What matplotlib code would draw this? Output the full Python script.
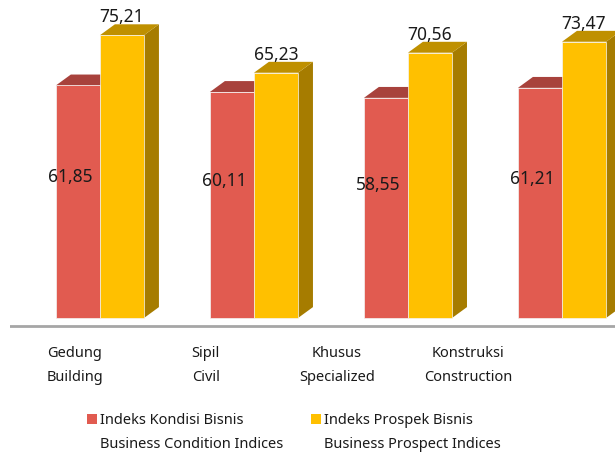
import matplotlib.pyplot as plt
from matplotlib.patches import Polygon, Rectangle
import numpy as np

plt.rcParams['font.family'] = ['Noto Sans', 'DejaVu Sans']

# data
categories = ['Gedung\nBuilding', 'Sipil\nCivil', 'Khusus\nSpecialized', 'Konstruksi\nConstruction']
kondisi = [61.85, 60.11, 58.55, 61.21]
prospek = [75.21, 65.23, 70.56, 73.47]
labels = ['Indeks Kondisi Bisnis\nBusiness Condition Indices',
          'Indeks Prospek Bisnis\nBusiness Prospect Indices']

red_front, red_top, red_side = '#E15B50', '#A8423C', '#8E3530'
yel_front, yel_top, yel_side = '#FFC000', '#BF9000', '#A67C00'

W, H = 615, 456
fig = plt.figure(figsize=(W / 100, H / 100), dpi=100)
# axes: x from px 10 to 615, y from px 330 (bottom) to 0 (top)
ax = fig.add_axes([10 / W, (H - 330) / H, 605 / W, 330 / H])
ax.set_xlim(-0.584, 3.344)
ax.set_ylim(-11 / 3.76, 319 / 3.76)
ax.axis('off')

x = np.arange(len(categories))
w = 0.286
dx, dy = 0.097, 2.9


def bar3d(x0, h, front, top, side):
    ax.add_patch(Polygon([[x0 + w, 0], [x0 + w + dx, dy], [x0 + w + dx, h + dy], [x0 + w, h]],
                         closed=True, facecolor=side, edgecolor='none'))
    ax.add_patch(Polygon([[x0, h], [x0 + dx, h + dy], [x0 + w + dx, h + dy], [x0 + w, h]],
                         closed=True, facecolor=top, edgecolor='none'))
    ax.bar(x0, h, width=w, align='edge', color=front, edgecolor='#f4f4f4', linewidth=0.5)


for i in range(len(categories)):
    bar3d(x[i] - w, kondisi[i], red_front, red_top, red_side)
    bar3d(x[i], prospek[i], yel_front, yel_top, yel_side)
    ax.text(x[i] - w / 2 - 0.05, kondisi[i] * 0.61, f'{kondisi[i]:.2f}'.replace('.', ','),
            ha='center', va='center', fontsize=12.5, color='#1a1a1a')
    ax.text(x[i] + w / 2, prospek[i] + 5.0, f'{prospek[i]:.2f}'.replace('.', ','),
            ha='center', va='center', fontsize=12.5, color='#1a1a1a')

# floor line
ax.axhline(-8 / 3.76, color='#a6a6a6', linewidth=2)

# category labels
for i, c in enumerate(categories):
    ax.text(-0.162 + 0.85 * i, -46.5 / 3.76, c, ha='center', va='center',
            fontsize=10.5, color='#1a1a1a', linespacing=1.9, clip_on=False)

# legend
for j, (lab, col) in enumerate(zip(labels, [red_front, yel_front])):
    lx = [87, 311][j]
    fig.patches.append(Rectangle((lx / W, (H - 425) / H), 10 / W, 10 / H,
                                 transform=fig.transFigure, facecolor=col, edgecolor='none'))
    fig.text((lx + 13) / W, (H - 432.5) / H, lab, ha='left', va='center',
             fontsize=10.5, color='#1a1a1a', linespacing=1.9)

fig.savefig('out.png', dpi=100)
